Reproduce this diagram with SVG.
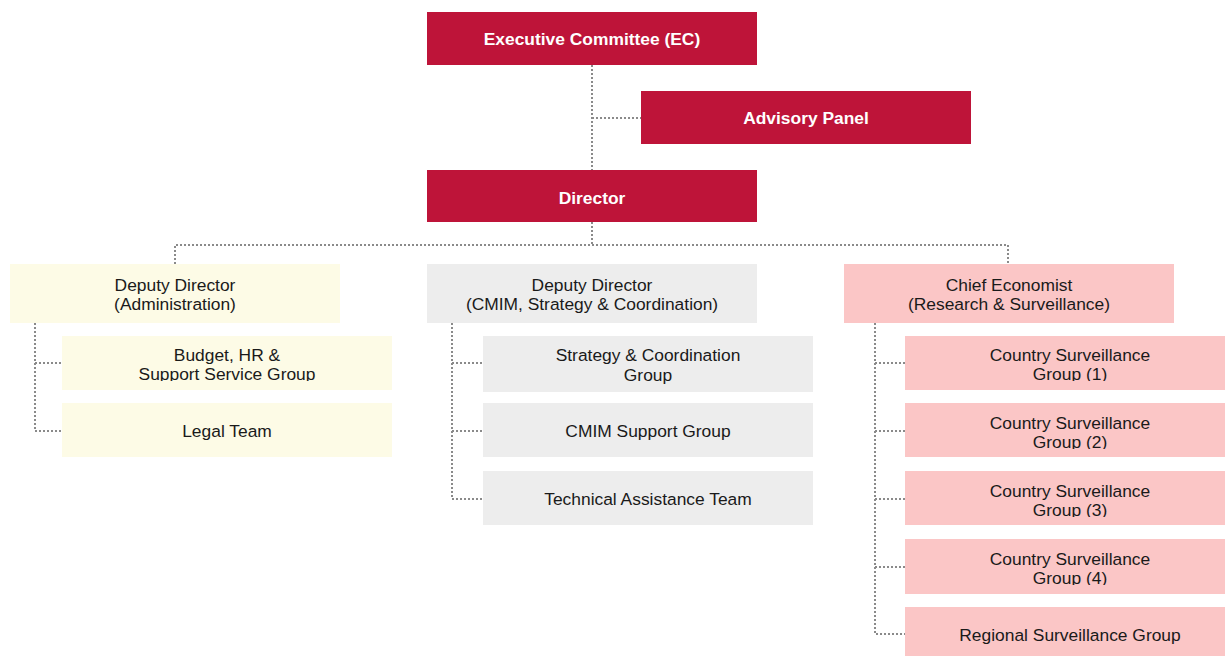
<svg xmlns="http://www.w3.org/2000/svg" width="1225" height="656" viewBox="0 0 1225 656">
<style>
.red{fill:#BE1439}
.yel{fill:#FDFBE6}
.gry{fill:#EDEDED}
.pnk{fill:#FBC6C6}
.tw{font-family:"Liberation Sans",Arial,sans-serif;font-size:17.4px;font-weight:bold;fill:#ffffff;text-anchor:middle}
.tb{font-family:"Liberation Sans",Arial,sans-serif;font-size:17.4px;fill:#1a1a1a;text-anchor:middle}
.con{fill:none;stroke:#8A8A8A;stroke-width:2;stroke-dasharray:2 2}
</style>
<defs>
<clipPath id="c1"><rect x="0" y="0" width="1225" height="381"/></clipPath>
<clipPath id="c3"><rect x="0" y="0" width="1225" height="449"/></clipPath>
<clipPath id="c4"><rect x="0" y="0" width="1225" height="517"/></clipPath>
<clipPath id="c5"><rect x="0" y="0" width="1225" height="585"/></clipPath>
</defs>
<g id="connectors">
<path class="con" d="M592 65V170M592 118H641"/>
<path class="con" d="M592 222V245M175 264V245H1008V264"/>
<path class="con" d="M35 323V431H62M35 363H62"/>
<path class="con" d="M452 323V499H483M452 363H483M452 431H483"/>
<path class="con" d="M875 323V634H905M875 363H905M875 431H905M875 499H905M875 567H905"/>
</g>
<g id="ec"><rect class="red" x="427" y="12" width="330" height="53"/><text class="tw" x="592" y="45">Executive Committee (EC)</text></g>
<g id="advisory"><rect class="red" x="641" y="91" width="330" height="53"/><text class="tw" x="806" y="124">Advisory Panel</text></g>
<g id="director"><rect class="red" x="427" y="170" width="330" height="52"/><text class="tw" x="592" y="204">Director</text></g>
<g id="dd-admin"><rect class="yel" x="10" y="264" width="330" height="59"/><text class="tb" x="175" y="291">Deputy Director</text><text class="tb" x="175" y="310">(Administration)</text></g>
<g id="dd-cmim"><rect class="gry" x="427" y="264" width="330" height="59"/><text class="tb" x="592" y="291">Deputy Director</text><text class="tb" x="592" y="310">(CMIM, Strategy &amp; Coordination)</text></g>
<g id="chief"><rect class="pnk" x="844" y="264" width="330" height="59"/><text class="tb" x="1009" y="291">Chief Economist</text><text class="tb" x="1009" y="310">(Research &amp; Surveillance)</text></g>
<g id="budget"><rect class="yel" x="62" y="336" width="330" height="54"/><text class="tb" x="227" y="361">Budget, HR &amp;</text><text class="tb" x="227" y="380" clip-path="url(#c1)">Support Service Group</text></g>
<g id="legal"><rect class="yel" x="62" y="403" width="330" height="54"/><text class="tb" x="227" y="437">Legal Team</text></g>
<g id="strategy"><rect class="gry" x="483" y="336" width="330" height="56"/><text class="tb" x="648" y="361">Strategy &amp; Coordination</text><text class="tb" x="648" y="381">Group</text></g>
<g id="cmim-support"><rect class="gry" x="483" y="403" width="330" height="54"/><text class="tb" x="648" y="437">CMIM Support Group</text></g>
<g id="technical"><rect class="gry" x="483" y="471" width="330" height="54"/><text class="tb" x="648" y="505">Technical Assistance Team</text></g>
<g id="csg1"><rect class="pnk" x="905" y="336" width="330" height="54"/><text class="tb" x="1070" y="361">Country Surveillance</text><text class="tb" x="1070" y="380" clip-path="url(#c1)">Group (1)</text></g>
<g id="csg2"><rect class="pnk" x="905" y="403" width="330" height="54"/><text class="tb" x="1070" y="429">Country Surveillance</text><text class="tb" x="1070" y="448" clip-path="url(#c3)">Group (2)</text></g>
<g id="csg3"><rect class="pnk" x="905" y="471" width="330" height="54"/><text class="tb" x="1070" y="497">Country Surveillance</text><text class="tb" x="1070" y="516" clip-path="url(#c4)">Group (3)</text></g>
<g id="csg4"><rect class="pnk" x="905" y="539" width="330" height="55"/><text class="tb" x="1070" y="565">Country Surveillance</text><text class="tb" x="1070" y="584" clip-path="url(#c5)">Group (4)</text></g>
<g id="regional"><rect class="pnk" x="905" y="607" width="330" height="55"/><text class="tb" x="1070" y="641">Regional Surveillance Group</text></g>
</svg>
